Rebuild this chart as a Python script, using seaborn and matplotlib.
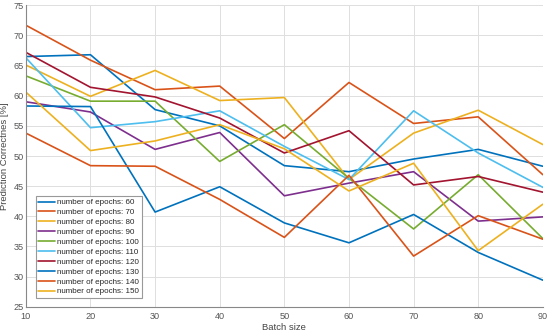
import pandas as pd
import seaborn as sns
import matplotlib.pyplot as plt

# batch sizes on the x axis
batch = [10, 20, 30, 40, 50, 60, 70, 80, 90]

# prediction correctness [%] per number of epochs
ep60 = [66.5, 66.8, 57.7, 55.0, 48.4, 47.4, 49.5, 51.1, 48.3]
ep70 = [71.7, 65.9, 61.0, 61.6, 52.9, 62.2, 55.4, 56.5, 46.9]
ep80 = [65.1, 59.9, 64.2, 59.2, 59.7, 46.1, 53.8, 57.6, 51.9]
ep90 = [59.0, 57.3, 51.1, 53.9, 43.4, 45.5, 47.4, 39.2, 39.9]
ep100 = [63.3, 59.1, 59.1, 49.1, 55.2, 46.3, 37.9, 46.9, 36.3]
ep110 = [66.3, 54.7, 55.7, 57.5, 51.6, 46.1, 57.5, 50.5, 44.8]
ep120 = [67.2, 61.4, 59.8, 56.3, 50.5, 54.2, 45.2, 46.6, 44.0]
ep130 = [58.3, 58.2, 40.7, 44.9, 38.9, 35.6, 40.3, 34.0, 29.4]
ep140 = [53.8, 48.4, 48.3, 42.8, 36.5, 46.8, 33.4, 40.1, 36.2]
ep150 = [60.6, 50.9, 52.5, 55.2, 51.2, 44.2, 48.8, 34.3, 42.0]

epochs = [60, 70, 80, 90, 100, 110, 120, 130, 140, 150]
series = [ep60, ep70, ep80, ep90, ep100, ep110, ep120, ep130, ep140, ep150]

rows = []
for e, vals in zip(epochs, series):
    for b, v in zip(batch, vals):
        rows.append({'batch': b, 'value': v, 'label': 'number of epochs: %d' % e})
df = pd.DataFrame(rows)

matlab = ['#0072BD', '#D95319', '#EDB120', '#7E2F8E', '#77AC30',
          '#4DBEEE', '#A2142F']
palette = [matlab[i % 7] for i in range(len(epochs))]

sns.set_style('whitegrid')
plt.rcParams['font.family'] = ['Liberation Sans', 'DejaVu Sans']

fig = plt.figure(figsize=(5.5, 3.33), dpi=100)
ax = fig.add_axes([0.047, 0.079, 0.94, 0.905])

sns.lineplot(data=df, x='batch', y='value', hue='label', palette=palette,
             linewidth=1.2, ax=ax)

ax.set_xlim(10, 90)
ax.set_ylim(25, 75)
ax.set_xticks(range(10, 91, 10))
ax.set_yticks(range(25, 76, 5))
ax.grid(True, color='#dedede', linewidth=0.7)
ax.tick_params(labelsize=6.6, colors='#555555', length=2, direction='in')
ax.tick_params(axis='y', pad=1.5)
ax.tick_params(axis='x', pad=4)
for s in ['top', 'right']:
    ax.spines[s].set_visible(False)
for s in ['left', 'bottom']:
    ax.spines[s].set_color('#888888')
    ax.spines[s].set_linewidth(0.8)

ax.set_xlabel('Batch size', fontsize=6.8, color='#444444', labelpad=1)
ax.set_ylabel('Prediction Correctnes [%]', fontsize=6.8, color='#444444', labelpad=1)
ax.yaxis.set_label_coords(-0.033, 0.5)

leg = ax.legend(loc='lower left', bbox_to_anchor=(0.019, 0.028), borderaxespad=0,
                fontsize=5.8, labelspacing=0.28, handlelength=2.0,
                handletextpad=0.3, borderpad=0.35, fancybox=False, framealpha=1)
leg.get_frame().set_edgecolor('#999999')
leg.get_frame().set_linewidth(0.8)

fig.savefig('out.png', dpi=100)
